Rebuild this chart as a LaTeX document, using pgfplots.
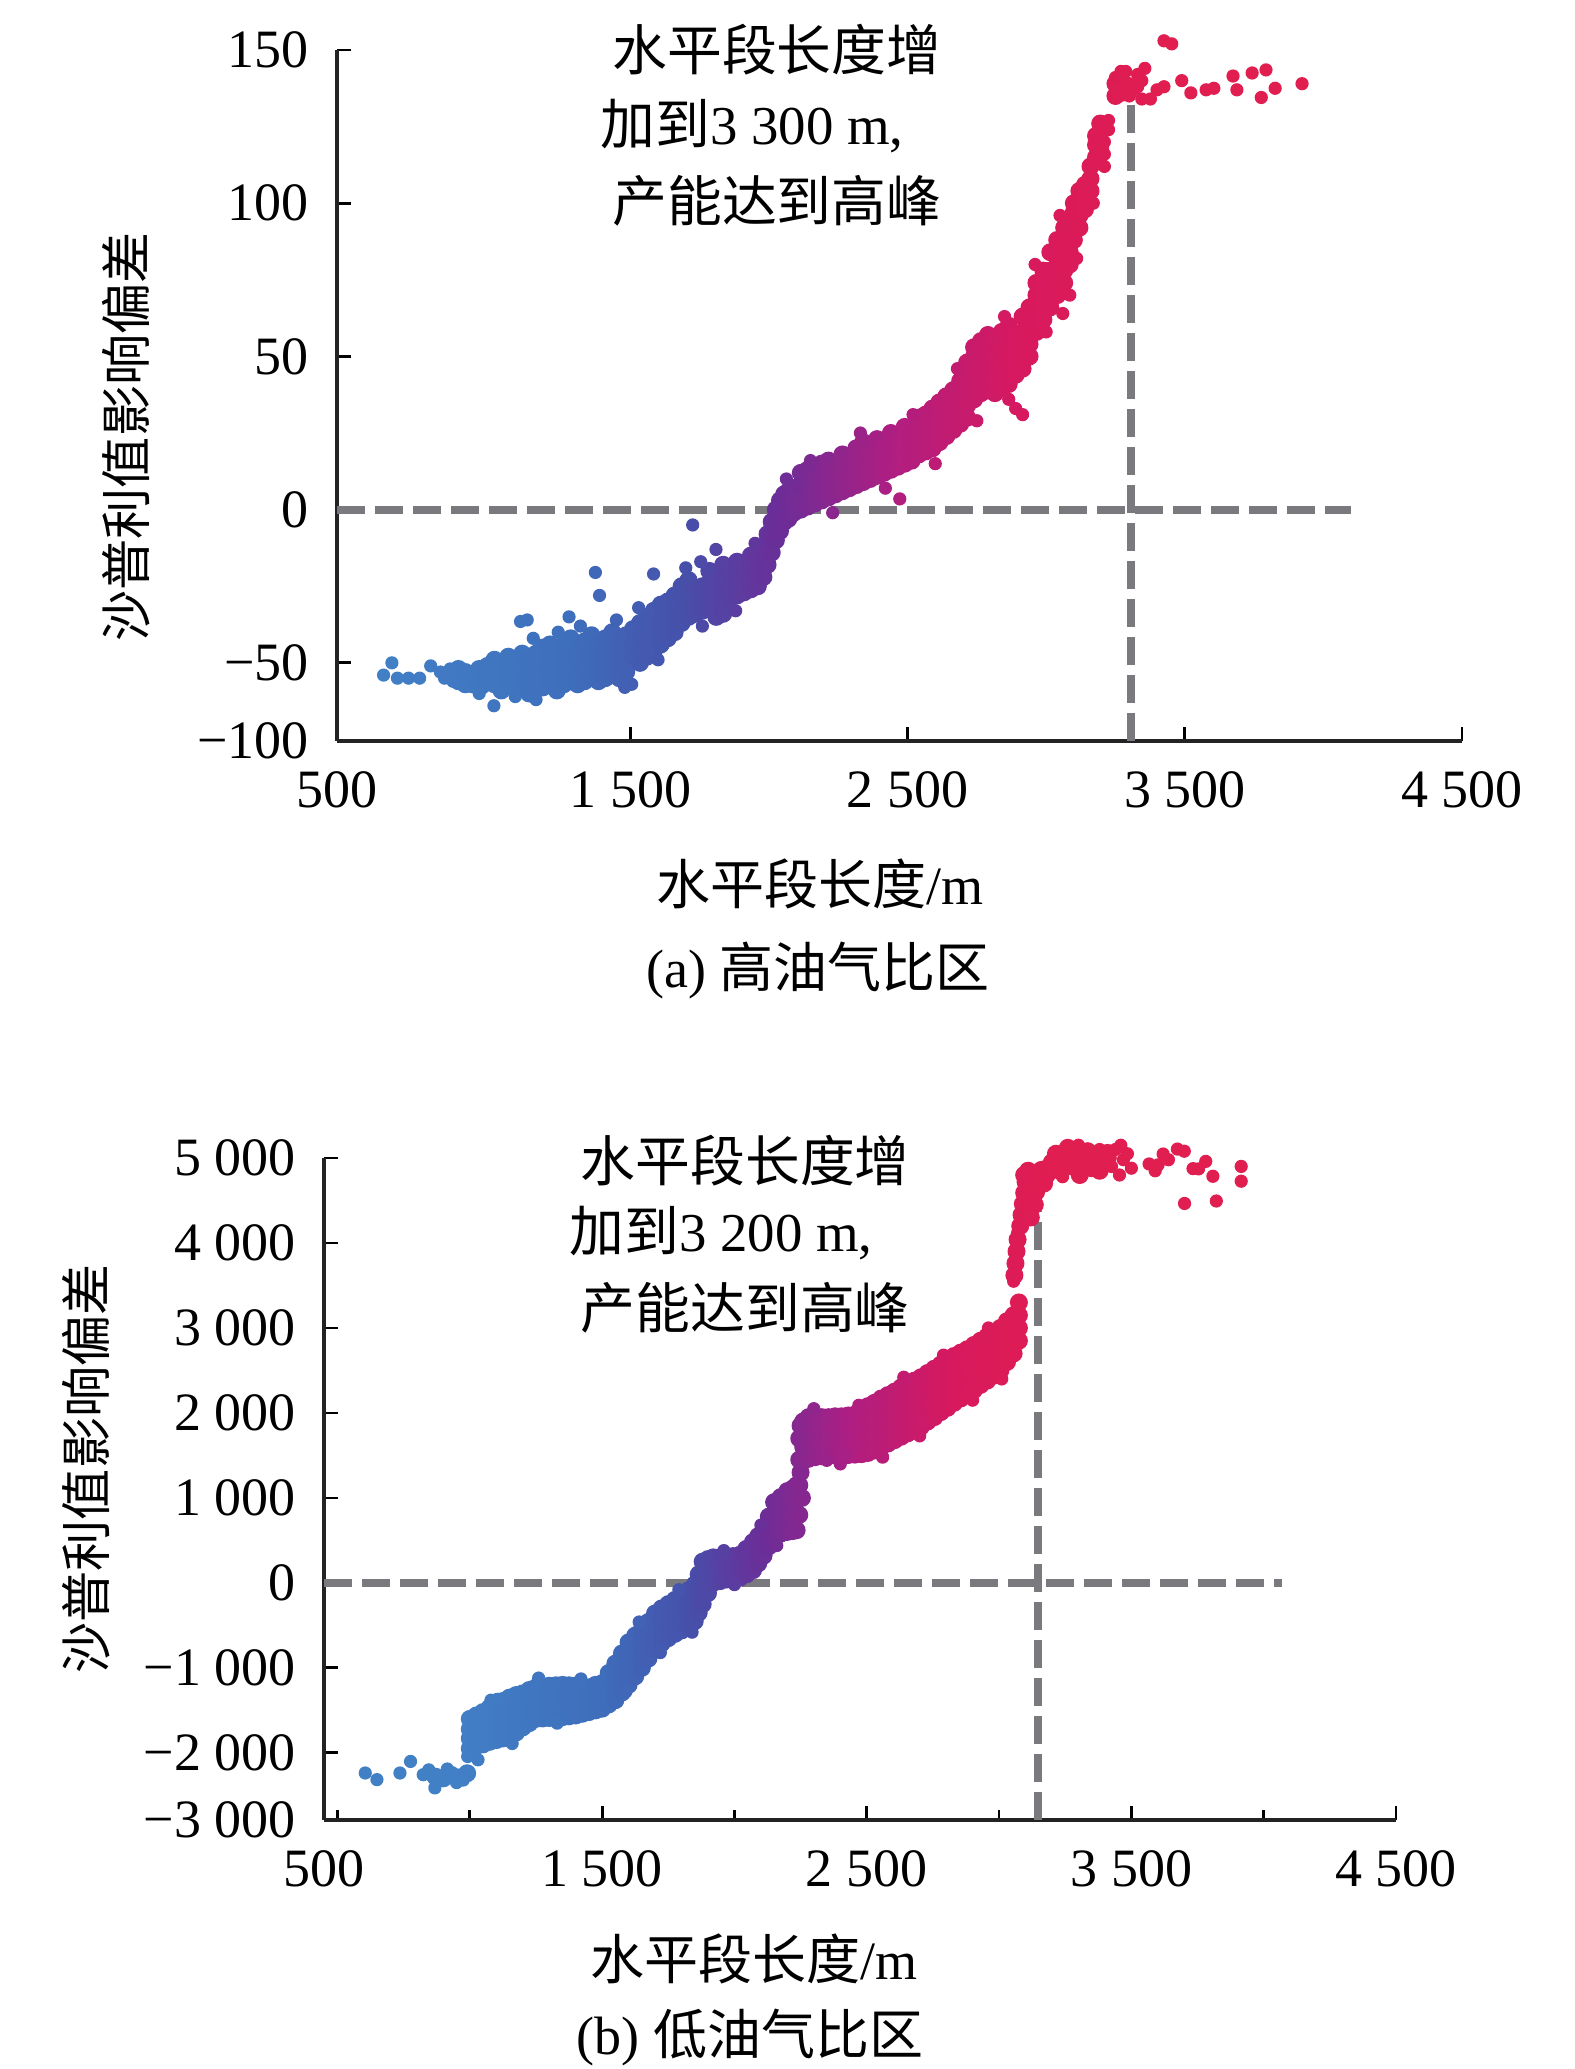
\documentclass[border=0pt]{standalone}
\usepackage{fontspec}
\setmainfont{Liberation Serif}
\newfontfamily\cjk{Noto Sans CJK SC}
\usepackage{pgfplots}
\pgfplotsset{compat=1.18}
\definecolor{dashgray}{RGB}{122,122,126}
\definecolor{axisgray}{RGB}{35,35,35}
\newcommand{\fs}{\fontsize{13.5}{16}\selectfont}
\newcommand{\fa}{\fontsize{13.7}{16}\selectfont}
\pgfplotsset{
 colormap={grad}{rgb255(0cm)=(66,128,198) rgb255(7cm)=(62,110,188) rgb255(11cm)=(70,80,170) rgb255(14.5cm)=(108,45,152) rgb255(18.5cm)=(175,30,130) rgb255(23cm)=(215,25,95) rgb255(28cm)=(225,30,80)},
 mystyle/.style={scale only axis, axis lines*=left, axis line style={axisgray, line width=1pt},
   tick align=inside, major tick length=3.6pt, minor tick length=2.5pt, tick style={black, line width=0.7pt},
   clip=false, /pgf/number format/assume math mode=true,
   tick label style={font=\fs}, colormap name=grad,
   xticklabel style={yshift=-4pt}, yticklabel style={xshift=-3.5pt}},
 dots/.style={scatter, only marks, mark=*, mark size=1.45pt, point meta=x,
   scatter/use mapped color={draw=mapped color, fill=mapped color}},
 band/.style={dots, mark size=2.05pt},
 dline/.style={dashgray, line width=2pt, dash pattern=on 7pt off 2.5pt}
}
\begin{document}
\begin{tikzpicture}[x=1pt,y=1pt]
\useasboundingbox (0,0) rectangle (393.75,517.25);
% ---------------- (a)
\begin{axis}[mystyle, at={(84.25pt,332pt)}, anchor=south west, width=281.25pt, height=172.75pt,
  xmin=442, xmax=4500, ymin=-75.5, ymax=150,
  xtick={442,1500,2500,3500,4500}, xticklabels={500,1 500,2 500,3 500,4 500},
  ytick={-75.5,-50,0,50,100,150}, yticklabels={−100,−50,0,50,100,150},
  point meta min=600, point meta max=3400]
% dense band
\addplot[band] coordinates {
(880,-52) (880,-56) (905,-53) (905,-57) (930,-54) (930,-57) (955,-52) (955,-56) (985,-51) (985,-55)
(1010,-53) (1010,-57) (1010,-49) (1035,-51) (1035,-55) (1035,-59) (1060,-48) (1060,-53) (1060,-57) (1085,-50) (1085,-54) (1085,-58) (1110,-47) (1110,-52) (1110,-56)
(1135,-49) (1135,-53) (1135,-57) (1135,-60) (1160,-47) (1160,-51) (1160,-55) (1185,-45) (1185,-50) (1185,-54) (1185,-58) (1210,-48) (1210,-52) (1210,-56) (1210,-44) (1235,-46) (1235,-51) (1235,-55) (1235,-59) (1260,-44) (1260,-49) (1260,-53) (1260,-57)
(1285,-47) (1285,-51) (1285,-55) (1285,-42) (1310,-45) (1310,-49) (1310,-53) (1310,-57) (1335,-43) (1335,-48) (1335,-52) (1335,-56) (1360,-46) (1360,-50) (1360,-54) (1360,-41)
(1385,-44) (1385,-48) (1385,-52) (1385,-56) (1410,-42) (1410,-47) (1410,-51) (1410,-55) (1435,-45) (1435,-49) (1435,-53) (1435,-40) (1460,-43) (1460,-47) (1460,-51) (1460,-55) (1485,-41) (1485,-45) (1485,-49) (1485,-53)
(1510,-39) (1510,-44) (1510,-48) (1535,-37) (1535,-42) (1535,-46) (1535,-50) (1560,-35) (1560,-40) (1560,-44) (1560,-48) (1585,-33) (1585,-38) (1585,-42) (1585,-46)
(1610,-31) (1610,-36) (1610,-40) (1610,-44) (1635,-30) (1635,-34) (1635,-38) (1635,-42) (1660,-28) (1660,-32) (1660,-36) (1660,-40) (1685,-29) (1685,-33) (1685,-37) (1685,-25)
(1710,-27) (1710,-31) (1710,-35) (1710,-23) (1735,-26) (1735,-30) (1735,-34) (1760,-25) (1760,-29) (1760,-33) (1785,-24) (1785,-28) (1785,-32) (1785,-20) (1810,-23) (1810,-27) (1810,-31) (1810,-35)
(1835,-22) (1835,-26) (1835,-30) (1835,-18) (1835,-34) (1860,-21) (1860,-25) (1860,-29) (1885,-20) (1885,-24) (1885,-28) (1885,-17) (1910,-19) (1910,-23) (1910,-27) (1935,-18) (1935,-22) (1935,-26) (1935,-15) (1960,-16) (1960,-21) (1960,-25)
(1980,-12) (1980,-17) (1980,-22) (1995,-8) (1995,-13) (1995,-18) (2010,-4) (2010,-9) (2010,-14) (2025,0) (2025,-5) (2025,-10) (2040,3) (2040,-2) (2040,-7) (2055,5) (2055,0) (2055,-4) (2070,6) (2070,2) (2070,-3)
(2090,7) (2090,3) (2090,-1) (2115,8) (2115,4) (2115,0) (2115,12) (2140,9) (2140,5) (2140,1) (2140,13) (2165,10) (2165,6) (2165,2) (2190,11) (2190,7) (2190,3) (2190,15) (2215,12) (2215,8) (2215,4) (2215,16) (2240,13) (2240,9) (2240,5)
(2265,14) (2265,10) (2265,6) (2265,18) (2290,15) (2290,11) (2290,7) (2315,16) (2315,12) (2315,8) (2315,20) (2340,17) (2340,13) (2340,9) (2340,22) (2365,18) (2365,14) (2365,10) (2390,19) (2390,15) (2390,11) (2390,23) (2415,20) (2415,16) (2415,12)
(2440,21) (2440,17) (2440,13) (2440,25) (2465,22) (2465,18) (2465,14) (2490,23) (2490,19) (2490,15) (2490,27) (2515,24) (2515,20) (2515,16) (2540,26) (2540,22) (2540,18) (2540,30) (2565,27) (2565,23) (2565,19) (2565,31)
(2590,28) (2590,24) (2590,20) (2590,33) (2615,30) (2615,26) (2615,22) (2615,35) (2640,32) (2640,28) (2640,24) (2640,37) (2665,34) (2665,30) (2665,26) (2665,39) (2690,36) (2690,32) (2690,28) (2690,42)
(2715,38) (2715,34) (2715,30) (2715,44) (2715,48) (2740,40) (2740,36) (2740,44) (2740,50) (2740,53) (2765,42) (2765,38) (2765,46) (2765,52) (2765,55) (2790,44) (2790,40) (2790,48) (2790,54) (2790,57) (2815,46) (2815,42) (2815,50) (2815,38) (2815,56)
(2840,48) (2840,44) (2840,52) (2840,58) (2840,40) (2865,50) (2865,46) (2865,54) (2865,60) (2865,41) (2890,52) (2890,48) (2890,56) (2890,44) (2915,54) (2915,50) (2915,58) (2915,63) (2915,46)
(2940,58) (2940,54) (2940,62) (2940,66) (2940,50) (2965,62) (2965,58) (2965,66) (2965,70) (2965,74) (2990,66) (2990,62) (2990,70) (2990,74) (2990,78) (3015,70) (3015,66) (3015,74) (3015,78) (3015,84)
(3040,74) (3040,70) (3040,78) (3040,82) (3040,88) (3065,78) (3065,74) (3065,82) (3065,86) (3065,92) (3085,84) (3085,80) (3085,88) (3085,95)
(3100,88) (3100,92) (3100,97) (3100,100) (3120,92) (3120,96) (3120,100) (3120,104) (3140,98) (3140,102) (3140,106) (3160,104) (3160,108) (3160,112)
(3180,115) (3180,119) (3180,122) (3195,118) (3195,123) (3195,126)
(3250,135) (3250,139) (3270,136) (3270,140)
};
% scattered dots
\addplot[dots] coordinates {
(610,-54) (640,-50) (660,-55) (700,-55) (740,-55) (780,-51) (815,-53) (830,-55) (850,-52) (860,-56) (970,-58) (955,-60) (1008,-64) (1085,-61)
(1104,-36.5) (1128,-36) (1160,-62) (1279,-35) (1374,-20.5) (1389,-28) (1505,-57) (1584,-21) (1725,-5) (1754,-17) (1809,-13)
(1150,-42) (1240,-40) (1320,-38) (1450,-36) (1480,-58) (1530,-32) (1600,-49) (1700,-19) (1760,-38) (1880,-33) (1950,-11)
(2150,16) (2230,-1) (2330,25) (2420,7) (2520,31) (2600,15) (2680,46) (2750,29) (2850,63) (2960,80) (3000,58) (3050,96) (3110,82) (3170,100) (3060,64)
(2063,10) (2100,8) (2472,3.5) (2890,33) (2915,31) (2865,36) (3085,70)
(3210,112) (3210,116) (3210,120) (3225,124) (3225,127) (3250,141) (3270,143)
(3287,143) (3300,139) (3300,135) (3315,137) (3330,142) (3330,138) (3345,134) (3345,140) (3356,144)
(3376,134) (3400,137) (3425,138) (3425,153) (3453,152) (3489,140) (3522,136) (3577,137) (3605,137.5) (3674,141.5) (3688,137) (3743,142.5) (3776,134.5) (3793,143.5) (3826,137.5) (3923,139)
};
\addplot[dline] coordinates {(442,0) (4100,0)};
\addplot[dline] coordinates {(3305,-75.5) (3305,137)};
\end{axis}
% ---------------- (b)
\begin{axis}[mystyle, at={(81pt,62.25pt)}, anchor=south west, width=268pt, height=165.5pt,
  xmin=449, xmax=4500, ymin=-2790, ymax=5000,
  xtick={449,1500,2500,3500,4500}, xticklabels={500,1 500,2 500,3 500,4 500},
  minor xtick={500,1000,2000,3000,4000}, minor tick style={tick align=outside},
  ytick={-2790,-2000,-1000,0,1000,2000,3000,4000,5000},
  yticklabels={−3 000,−2 000,−1 000,0,1 000,2 000,3 000,4 000,5 000},
  point meta min=937, point meta max=3233]
\addplot[band] coordinates {
(870,-2280) (900,-2300) (930,-2260) (960,-2290) (990,-2240)
(1000,-1950) (1000,-1830) (1000,-1720) (1000,-1600) (1025,-1920) (1025,-1800) (1025,-1680) (1025,-1560) (1050,-1900) (1050,-1770) (1050,-1650) (1050,-1520) (1075,-1870) (1075,-1740) (1075,-1610) (1075,-1470)
(1100,-1850) (1100,-1710) (1100,-1560) (1100,-1420) (1125,-1830) (1125,-1690) (1125,-1530) (1125,-1390) (1150,-1820) (1150,-1670) (1150,-1510) (1150,-1350) (1175,-1760) (1175,-1620) (1175,-1470) (1175,-1320)
(1200,-1700) (1200,-1570) (1200,-1430) (1200,-1300) (1225,-1650) (1225,-1520) (1225,-1390) (1225,-1260) (1250,-1600) (1250,-1480) (1250,-1350) (1250,-1230) (1275,-1595) (1275,-1470) (1275,-1340) (1275,-1220)
(1300,-1590) (1300,-1460) (1300,-1330) (1300,-1210) (1325,-1585) (1325,-1455) (1325,-1330) (1325,-1205) (1350,-1580) (1350,-1450) (1350,-1320) (1350,-1200) (1375,-1570) (1375,-1440) (1375,-1320) (1375,-1205)
(1400,-1560) (1400,-1440) (1400,-1320) (1400,-1210) (1425,-1540) (1425,-1430) (1425,-1320) (1425,-1220) (1450,-1520) (1450,-1420) (1450,-1320) (1450,-1230) (1475,-1500) (1475,-1390) (1475,-1290) (1475,-1200)
(1500,-1480) (1500,-1380) (1500,-1280) (1500,-1180) (1525,-1430) (1525,-1290) (1525,-1150) (1525,-1060) (1550,-1380) (1550,-1240) (1550,-1090) (1550,-950) (1575,-1290) (1575,-1140) (1575,-990) (1575,-830)
(1600,-1200) (1600,-1030) (1600,-870) (1600,-700) (1625,-1100) (1625,-950) (1625,-790) (1625,-620) (1650,-1000) (1650,-850) (1650,-700) (1650,-550) (1675,-890) (1675,-750) (1675,-610) (1675,-460)
(1700,-780) (1700,-640) (1700,-500) (1700,-360) (1725,-710) (1725,-580) (1725,-440) (1725,-300) (1750,-650) (1750,-520) (1750,-380) (1750,-250) (1775,-600) (1775,-470) (1775,-330) (1775,-200)
(1800,-560) (1800,-420) (1800,-290) (1800,-150) (1825,-500) (1825,-360) (1825,-220) (1825,-90) (1850,-450) (1850,-310) (1850,-160) (1850,-20) (1865,-350) (1865,-200) (1865,-50) (1865,100)
(1880,-250) (1880,-80) (1880,80) (1880,250) (1900,-120) (1900,30) (1900,170) (1900,280) (1920,0) (1920,100) (1920,200) (1920,300) (1945,20) (1945,120) (1945,220) (1945,300)
(1970,40) (1970,130) (1970,220) (1970,300) (1995,50) (1995,140) (1995,230) (1995,315) (2020,60) (2020,150) (2020,240) (2020,330) (2045,100) (2045,210) (2045,320) (2045,400)
(2070,150) (2070,260) (2070,370) (2070,480) (2090,230) (2090,340) (2090,450) (2090,550) (2110,320) (2110,420) (2110,520) (2110,620) (2130,430) (2130,540) (2130,650) (2130,780)
(2150,550) (2150,680) (2150,810) (2150,950) (2175,580) (2175,720) (2175,860) (2175,1010) (2200,600) (2200,760) (2200,920) (2200,1080) (2220,610) (2220,780) (2220,950) (2220,1110) (2235,620) (2235,800) (2235,980) (2235,1150)
(2245,800) (2245,1150) (2245,1450) (2245,1700) (2250,1300) (2250,1850) (2255,1000)
(2260,1450) (2260,1600) (2260,1750) (2260,1900) (2280,1460) (2280,1620) (2280,1780) (2280,1950) (2305,1480) (2305,1630) (2305,1790) (2305,1950) (2330,1490) (2330,1640) (2330,1800) (2330,1950)
(2355,1500) (2355,1650) (2355,1800) (2355,1950) (2380,1500) (2380,1650) (2380,1810) (2380,1960) (2405,1500) (2405,1660) (2405,1820) (2405,1960) (2430,1505) (2430,1660) (2430,1820) (2430,1970)
(2455,1510) (2455,1670) (2455,1830) (2455,1980) (2480,1515) (2480,1690) (2480,1860) (2480,2030) (2505,1530) (2505,1710) (2505,1890) (2505,2080) (2530,1560) (2530,1740) (2530,1930) (2530,2120)
(2555,1600) (2555,1790) (2555,1980) (2555,2170) (2580,1640) (2580,1830) (2580,2020) (2580,2210) (2605,1680) (2605,1870) (2605,2060) (2605,2250) (2630,1720) (2630,1910) (2630,2100) (2630,2300)
(2655,1760) (2655,1950) (2655,2150) (2655,2340) (2680,1800) (2680,1990) (2680,2190) (2680,2380) (2705,1840) (2705,2040) (2705,2230) (2705,2420) (2730,1900) (2730,2100) (2730,2300) (2730,2470)
(2755,1950) (2755,2140) (2755,2340) (2755,2520) (2780,2010) (2780,2200) (2780,2390) (2780,2570) (2805,2060) (2805,2250) (2805,2440) (2805,2620) (2830,2120) (2830,2300) (2830,2490) (2830,2670)
(2855,2170) (2855,2350) (2855,2530) (2855,2710) (2880,2220) (2880,2400) (2880,2580) (2880,2750) (2905,2270) (2905,2450) (2905,2630) (2905,2800) (2930,2330) (2930,2500) (2930,2680) (2930,2850)
(2955,2380) (2955,2550) (2955,2730) (2955,2900) (2980,2440) (2980,2600) (2980,2780) (2980,2950) (3005,2500) (3005,2660) (3005,2830) (3005,3000) (3030,2600) (3030,2760) (3030,2920) (3030,3080)
(3055,2700) (3055,2850) (3055,3000) (3055,3150) (3075,2850) (3075,3000) (3075,3150) (3075,3300)
(3058,3620) (3062,3760) (3066,3900) (3070,4040)
(3080,4200) (3085,4330) (3090,4460) (3095,4590) (3100,4720) (3110,4850) (3095,4800) (3110,4400) (3115,4550) (3125,4700) (3130,4820) (3140,4600) (3150,4750) (3160,4860) (3170,4700) (3180,4800) (3190,4900) (3120,4300) (3135,4450)
(3200,4950) (3215,5050) (3230,4850) (3245,5000) (3260,5120) (3275,4900) (3290,5050) (3305,4800) (3320,4950) (3335,5080) (3350,4880) (3365,5010) (3380,4850) (3395,4950) (3410,5060) (3210,4880) (3350,5000)
};
\addplot[dots] coordinates {
(605,-2237) (649,-2315) (736,-2237) (776,-2101) (824,-2257) (845,-2200) (868,-2412) (915,-2190) (950,-2350) (975,-2320) (992,-2043) (1031,-2082) (1104,-1370)
(1080,-1380) (1160,-1890) (1260,-1120) (1330,-1650) (1420,-1130) (1590,-1280) (1640,-460) (1720,-820) (1790,-80) (1840,-580) (1960,380) (2000,-20) (2100,680) (2160,440)
(2300,2050) (2400,1400) (2470,2090) (2560,1480) (2640,2420) (2700,1730) (2790,2680) (2900,2150) (2960,3000) (3010,2400)
(2349,1442) (2416,1500) (2710,1907) (2844,2227)
(3055,3550) (3070,4116)
(3425,4900) (3440,5100) (3455,4800) (3470,4980) (3485,5050) (3500,4880) (3240,4780) (3300,5150) (3380,5100) (3460,5150) (3420,5000)
(3567,4930) (3601,4919) (3620,5047) (3674,5105) (3701,4465) (3733,4875) (3754,4872) (3781,4960) (3808,4785) (3821,4494) (3915,4901) (3915,4727) (3640,4980) (3700,5080) (3590,4850)
};
\addplot[dline] coordinates {(449,0) (4070,0)};
\addplot[dline] coordinates {(3146,-2790) (3146,4500)};
\end{axis}
% ---------------- texts
\node[font=\fs] at (205,296.25) {{\cjk 水平段长度}/m};
\node[font=\fs] at (204.5,274.75) {(a) {\cjk 高油气比区}};
\node[rotate=90, font=\fontsize{12.8}{15}\selectfont] at (31.5,408) {\cjk 沙普利值影响偏差};
\node[anchor=west, inner sep=0pt, font=\fa] at (152.9,504.75) {\cjk 水平段长度增};
\node[anchor=west, inner sep=0pt, font=\fa] at (150,485.75) {{\cjk 加到}3 300 m,};
\node[anchor=west, inner sep=0pt, font=\fa] at (152.9,467) {\cjk 产能达到高峰};
\node[font=\fs] at (188.5,27.5) {{\cjk 水平段长度}/m};
\node[font=\fs] at (187.5,7.75) {(b) {\cjk 低油气比区}};
\node[rotate=90, font=\fontsize{12.8}{15}\selectfont] at (21.5,150) {\cjk 沙普利值影响偏差};
\node[anchor=west, inner sep=0pt, font=\fa] at (145,227) {\cjk 水平段长度增};
\node[anchor=west, inner sep=0pt, font=\fa] at (142.25,209) {{\cjk 加到}3 200 m,};
\node[anchor=west, inner sep=0pt, font=\fa] at (145,190.25) {\cjk 产能达到高峰};
\end{tikzpicture}
\end{document}
